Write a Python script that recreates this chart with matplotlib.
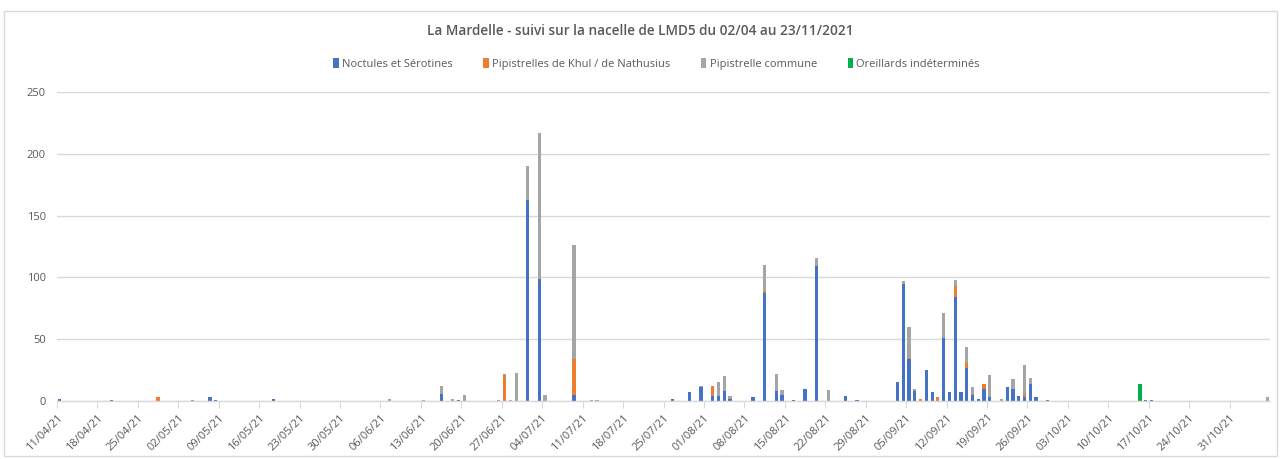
import matplotlib
matplotlib.use("Agg")
import matplotlib.pyplot as plt
import matplotlib.dates as mdates
from matplotlib.patches import Rectangle
import pandas as pd
import numpy as np

title = "La Mardelle - suivi sur la nacelle de LMD5 du 02/04 au 23/11/2021"
series_names = ["Noctules et Sérotines", "Pipistrelles de Khul / de Nathusius",
                "Pipistrelle commune", "Oreillards indéterminés"]
colors = ["#4472C4", "#ED7D31", "#A5A5A5", "#00B050"]

dates = ["11/04/2021", "20/04/2021", "28/04/2021", "04/05/2021", "07/05/2021", "08/05/2021",
         "18/05/2021", "07/06/2021", "13/06/2021", "16/06/2021", "18/06/2021", "19/06/2021",
         "20/06/2021", "26/06/2021", "27/06/2021", "28/06/2021", "29/06/2021", "01/07/2021",
         "03/07/2021", "04/07/2021", "09/07/2021", "12/07/2021", "13/07/2021", "26/07/2021",
         "29/07/2021", "31/07/2021", "02/08/2021", "03/08/2021", "04/08/2021", "05/08/2021",
         "09/08/2021", "11/08/2021", "13/08/2021", "14/08/2021", "16/08/2021", "18/08/2021",
         "20/08/2021", "22/08/2021", "25/08/2021", "27/08/2021", "03/09/2021", "04/09/2021",
         "05/09/2021", "06/09/2021", "07/09/2021", "08/09/2021", "09/09/2021", "10/09/2021",
         "11/09/2021", "12/09/2021", "13/09/2021", "14/09/2021", "15/09/2021", "16/09/2021",
         "17/09/2021", "18/09/2021", "19/09/2021", "21/09/2021", "22/09/2021", "23/09/2021",
         "24/09/2021", "25/09/2021", "26/09/2021", "27/09/2021", "29/09/2021", "15/10/2021",
         "16/10/2021", "17/10/2021", "06/11/2021"]

noctules = [2, 1, 0, 0, 3, 1,
            2, 0, 0, 6, 0, 1,
            0, 0, 0, 0, 0, 163,
            99, 0, 5, 0, 0, 2,
            7, 11, 4, 4, 8, 2,
            3, 87, 8, 5, 1, 10,
            109, 0, 4, 1, 15, 95,
            34, 8, 0, 25, 7, 0,
            51, 7, 84, 7, 27, 5,
            2, 10, 3, 0, 11, 10,
            4, 3, 14, 3, 1, 0,
            1, 1, 0]
khul_nathusius = [0, 0, 3, 1, 0, 0,
                  0, 0, 0, 0, 0, 0,
                  0, 0, 21, 0, 0, 0,
                  0, 0, 29, 0, 0, 0,
                  0, 0, 8, 0, 0, 0,
                  0, 2, 0, 0, 0, 0,
                  0, 0, 0, 0, 0, 0,
                  1, 0, 2, 0, 0, 3,
                  0, 0, 9, 0, 4, 1,
                  0, 4, 0, 0, 0, 0,
                  0, 3, 0, 0, 0, 0,
                  0, 0, 0]
commune = [0, 0, 0, 0, 0, 0,
           0, 2, 1, 6, 2, 0,
           5, 1, 1, 1, 23, 27,
           118, 5, 92, 1, 1, 0,
           0, 1, 0, 11, 12, 2,
           0, 21, 14, 4, 0, 0,
           7, 9, 0, 0, 0, 2,
           25, 2, 0, 0, 0, 0,
           20, 0, 5, 0, 13, 5,
           0, 0, 18, 2, 0, 8,
           0, 23, 5, 0, 0, 0,
           0, 0, 3]
oreillards = [0] * 65 + [14, 0, 0, 0]

axis_start = "11/04/2021"
axis_end = "07/11/2021"

plt.rcParams['font.family'] = ['Open Sans', 'DejaVu Sans']
txt = "#595959"

fig = plt.figure(figsize=(12.81, 4.59), dpi=100)
fig.patches.append(Rectangle((0.003, 0.006), 0.994, 0.97, transform=fig.transFigure,
                             fill=False, edgecolor="#D9D9D9", linewidth=1.0))
ax = fig.add_axes([57 / 1281, 1 - 401 / 459, (1270 - 57) / 1281, (401 - 92) / 459])

x = pd.to_datetime(dates, format="%d/%m/%Y") + pd.Timedelta(hours=12)
xn = mdates.date2num(x)
vals = [np.array(noctules), np.array(khul_nathusius), np.array(commune), np.array(oreillards)]
bottom = np.zeros(len(dates))
for v, c, n in zip(vals, colors, series_names):
    ax.bar(xn, v, width=0.55, bottom=bottom, color=c, label=n, zorder=3, linewidth=0)
    bottom = bottom + v

x0 = mdates.date2num(pd.to_datetime(axis_start, format="%d/%m/%Y"))
x1 = mdates.date2num(pd.to_datetime(axis_end, format="%d/%m/%Y"))
ax.set_xlim(x0, x1)
ax.set_ylim(0, 250)
ticks = np.arange(x0, x1, 7)
ax.set_xticks(ticks)
ax.set_xticklabels([mdates.num2date(t).strftime("%d/%m/%y") for t in ticks],
                   rotation=45, ha="right", va="top", rotation_mode="anchor",
                   fontsize=8, color=txt)
ax.set_yticks(np.arange(0, 251, 50))
ax.tick_params(axis="y", length=0, labelsize=8, labelcolor=txt, pad=8)
ax.tick_params(axis="x", length=5, color="#D9D9D9", pad=3)
ax.grid(axis="y", color="#D9D9D9", linewidth=1.0, zorder=0)
for s in ["top", "right", "left"]:
    ax.spines[s].set_visible(False)
ax.spines["bottom"].set_color("#D9D9D9")
ax.spines["bottom"].set_linewidth(1.0)
ax.spines["bottom"].set_zorder(4)

fig.text(0.5, 1 - 31 / 459, title, ha="center", va="center", fontsize=9.8,
         color=txt, fontweight="semibold")
leg = fig.legend(loc="center", bbox_to_anchor=(0.5125, 1 - 64 / 459), ncol=4, frameon=False,
                 fontsize=8, handlelength=0.5, handleheight=0.9, handletextpad=0.3,
                 columnspacing=2.75, labelcolor=txt)

fig.savefig("out.png", dpi=100, facecolor="white")
